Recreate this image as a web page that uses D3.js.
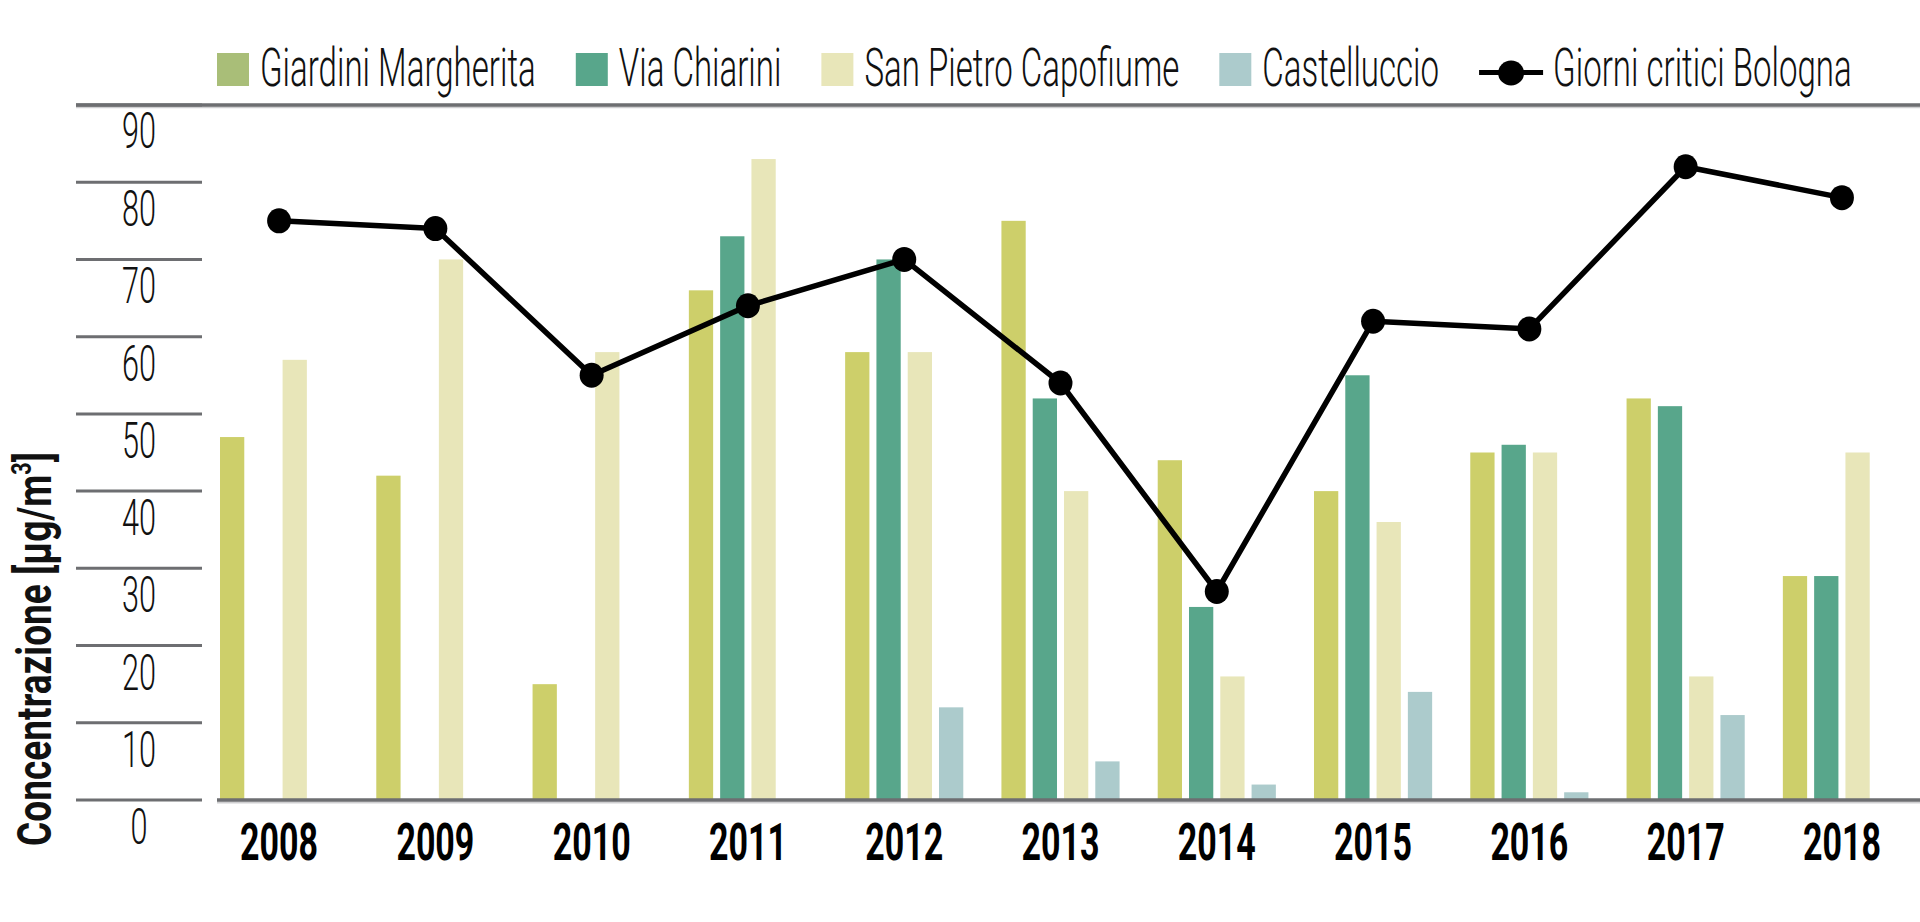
<!DOCTYPE html>
<html>
<head>
<meta charset="utf-8">
<script src="https://cdn.jsdelivr.net/npm/d3@7"></script>
<style>
  html, body { margin: 0; padding: 0; background: #ffffff; }
  svg { display: block; }
</style>
</head>
<body>
<svg id="chart" width="1920" height="922"></svg>
<script>
// ---------------- DATA ----------------
const years = ["2008","2009","2010","2011","2012","2013","2014","2015","2016","2017","2018"];
const seriesNames = ["Giardini Margherita","Via Chiarini","San Pietro Capofiume","Castelluccio"];
const giardiniMargherita = [47, 42, 15, 66, 58, 75, 44, 40, 45, 52, 29];
const viaChiarini        = [null, null, null, 73, 70, 52, 25, 55, 46, 51, 29];
const sanPietroCapofiume = [57, 70, 58, 83, 58, 40, 16, 36, 45, 16, 45];
const castelluccio       = [null, null, null, null, 12, 5, 2, 14, 1, 11, null];
const lineName = "Giorni critici Bologna";
const giorniCritici      = [75, 74, 55, 64, 70, 54, 27, 62, 61, 82, 78];
const yTicks = [0, 10, 20, 30, 40, 50, 60, 70, 80, 90];
const yTitle = "Concentrazione [µg/m";
const yTitleSup = "3";

// ---------------- STYLE ----------------
const barColors = ["#cdcf6a", "#58a68b", "#e8e6b9", "#accbcc"];
const legendColors = ["#a9be78", "#58a68b", "#e8e6b9", "#accbcc"];
const axisDark = "#6d6e71";
const axisLight = "#cfcfd1";

const svg = d3.select("#chart");
svg.append("rect").attr("width", 1920).attr("height", 922).attr("fill", "#fff");

const valuesBySeries = [giardiniMargherita, viaChiarini, sanPietroCapofiume, castelluccio];

// ---------------- SCALES ----------------
const y = d3.scaleLinear().domain([0, 90]).range([800, 105]);
const x0 = d3.scaleBand().domain(years).range([220, 1901]).paddingInner(0.244).paddingOuter(0);
const x1 = d3.scaleBand().domain(seriesNames).range([0, x0.bandwidth()]).paddingInner(0.224).paddingOuter(0);

function fitText(sel, target, tx, ty, extra) {
  const node = sel.node();
  const w = node.getComputedTextLength();
  const s = target / w;
  sel.attr("transform", `translate(${tx},${ty})${extra || ""} scale(${s},1)`);
  return s;
}

// ---------------- GRID / AXES ----------------
svg.append("line").attr("x1", 76).attr("x2", 1920).attr("y1", y(90) + 2.2).attr("y2", y(90) + 2.2)
  .attr("stroke", axisLight).attr("stroke-width", 2);
svg.append("line").attr("x1", 76).attr("x2", 1920).attr("y1", y(90)).attr("y2", y(90))
  .attr("stroke", axisDark).attr("stroke-width", 3.5);

const gTicks = svg.append("g");
yTicks.forEach(t => {
  gTicks.append("line").attr("x1", 76).attr("x2", 202).attr("y1", y(t)).attr("y2", y(t))
    .attr("stroke", axisDark).attr("stroke-width", 3);
});

const tickScaleRef = gTicks.append("text").text("90")
  .attr("font-family", "Roboto").attr("font-weight", 300).attr("font-size", 50)
  .attr("fill", "#111").attr("text-anchor", "middle");
const tickScale = fitText(tickScaleRef, 34, 139, y(90) + 43);
yTicks.filter(t => t !== 90).forEach(t => {
  gTicks.append("text").text(t)
    .attr("font-family", "Roboto").attr("font-weight", 300).attr("font-size", 50)
    .attr("fill", "#111").attr("text-anchor", "middle")
    .attr("transform", `translate(139,${y(t) + 44}) scale(${tickScale},1)`);
});

// y title
const yt = svg.append("text")
  .attr("font-family", "Roboto").attr("font-weight", 700).attr("font-size", 48)
  .attr("fill", "#111").attr("text-anchor", "middle");
yt.append("tspan").text(yTitle);
yt.append("tspan").text(yTitleSup).attr("font-size", 28).attr("dy", -20);
yt.append("tspan").text("]").attr("dy", 20);
{
  const w = yt.node().getBBox().width;
  const s = 394 / w;
  yt.attr("transform", `translate(51,649) rotate(-90) scale(${s},1)`);
}

// ---------------- BARS ----------------
const groups = svg.append("g").selectAll("g").data(years).join("g")
  .attr("transform", d => `translate(${x0(d)},0)`);

groups.selectAll("rect")
  .data((d, i) => seriesNames.map((s, k) => ({ s, k, v: valuesBySeries[k][i] })).filter(e => e.v != null))
  .join("rect")
  .attr("x", e => x1(e.s))
  .attr("width", x1.bandwidth())
  .attr("y", e => y(e.v))
  .attr("height", e => y(0) - y(e.v))
  .attr("fill", e => barColors[e.k]);

// baseline
svg.append("line").attr("x1", 217).attr("x2", 1920).attr("y1", y(0) + 2.5).attr("y2", y(0) + 2.5)
  .attr("stroke", axisLight).attr("stroke-width", 2);
svg.append("line").attr("x1", 217).attr("x2", 1920).attr("y1", y(0)).attr("y2", y(0))
  .attr("stroke", axisDark).attr("stroke-width", 3.5);

// year labels
const yearLabels = svg.append("g");
const refYear = yearLabels.append("text").text(years[0])
  .attr("font-family", "Roboto").attr("font-weight", 700).attr("font-size", 52)
  .attr("fill", "#000").attr("text-anchor", "middle");
const yearScale = fitText(refYear, 78, x0(years[0]) + x0.bandwidth() / 2, 860);
years.slice(1).forEach(yr => {
  yearLabels.append("text").text(yr)
    .attr("font-family", "Roboto").attr("font-weight", 700).attr("font-size", 52)
    .attr("fill", "#000").attr("text-anchor", "middle")
    .attr("transform", `translate(${x0(yr) + x0.bandwidth() / 2},860) scale(${yearScale},1)`);
});

// ---------------- LINE ----------------
const lineData = years.map((yr, i) => ({ yr, v: giorniCritici[i] }));
const line = d3.line().x(d => x0(d.yr) + x0.bandwidth() / 2).y(d => y(d.v));
svg.append("path").datum(lineData).attr("d", line)
  .attr("fill", "none").attr("stroke", "#000").attr("stroke-width", 5.5).attr("stroke-linejoin", "round");
svg.append("g").selectAll("ellipse").data(lineData).join("ellipse")
  .attr("cx", d => x0(d.yr) + x0.bandwidth() / 2)
  .attr("cy", d => y(d.v))
  .attr("rx", 12).attr("ry", 12.5)
  .attr("fill", "#000");

// ---------------- LEGEND ----------------
const legend = svg.append("g");
const legendItems = seriesNames.map((n, k) => ({ name: n, type: "bar", color: legendColors[k] }))
  .concat([{ name: lineName, type: "line" }]);
const legendTexts = legendItems.map(it => legend.append("text").text(it.name)
  .attr("font-family", "Roboto").attr("font-weight", 300).attr("font-size", 54).attr("fill", "#111"));
const measured = d3.sum(legendTexts, t => t.node().getComputedTextLength());
const legendScale = 1229 / measured;
let cx = 217;
legendItems.forEach((it, k) => {
  if (it.type === "bar") {
    legend.append("rect").attr("x", cx).attr("y", 53).attr("width", 32).attr("height", 33)
      .attr("fill", it.color);
    cx += 32 + 11;
  } else {
    legend.append("line").attr("x1", cx).attr("x2", cx + 64).attr("y1", 72.5).attr("y2", 72.5)
      .attr("stroke", "#000").attr("stroke-width", 5);
    legend.append("ellipse").attr("cx", cx + 32).attr("cy", 73).attr("rx", 13).attr("ry", 12.5).attr("fill", "#000");
    cx += 64 + 10;
  }
  legendTexts[k].attr("transform", `translate(${cx},86) scale(${legendScale},1)`);
  cx += legendTexts[k].node().getComputedTextLength() * legendScale + 40;
});
</script>
</body>
</html>
